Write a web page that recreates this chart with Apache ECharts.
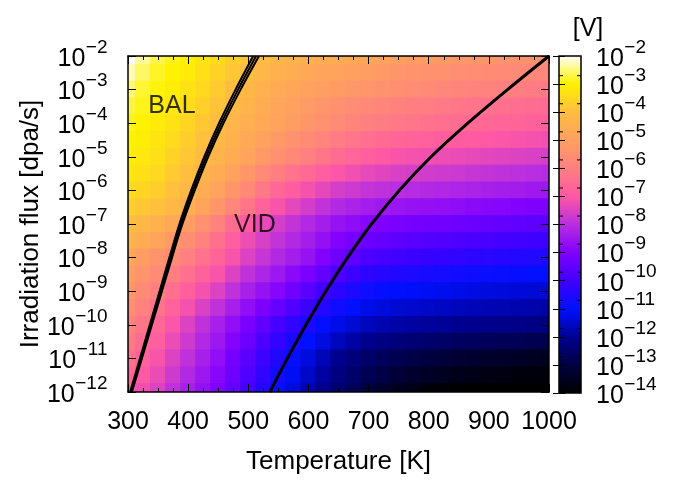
<!DOCTYPE html>
<html>
<head>
<meta charset="utf-8">
<script src="https://cdn.jsdelivr.net/npm/echarts@6/dist/echarts.min.js"></script>
<style>
  html, body { margin: 0; padding: 0; background: #ffffff; }
  #chart { width: 679px; height: 480px; }
</style>
</head>
<body>
<div id="chart"></div>
<script>
// Temperature grid [K] and irradiation flux exponents (log10 dpa/s)
const temperatures = [300, 325, 350, 375, 400, 425, 450, 475, 500, 525, 550, 575, 600, 625, 650,
                      675, 700, 725, 750, 775, 800, 825, 850, 875, 900, 925, 950, 975, 1000];
const fluxExponents = [-2, -2.5, -3, -3.5, -4, -4.5, -5, -5.5, -6, -6.5, -7, -7.5, -8, -8.5, -9,
                       -9.5, -10, -10.5, -11, -11.5, -12];

// log10 of V for every (flux row, temperature column)
const logV = [
  [-2.0,-2.4,-2.7,-2.9,-3.05,-3.25,-3.45,-3.7,-3.9,-4.1,-4.25,-4.38,-4.5,-4.55,-4.6,-4.7,-4.8,-4.9,-5.0,-5.08,-5.15,-5.2,-5.25,-5.3,-5.35,-5.4,-5.45,-5.48,-5.5],
  [-2.3,-2.6,-2.85,-3.0,-3.15,-3.35,-3.6,-3.85,-4.05,-4.25,-4.45,-4.6,-4.75,-4.83,-4.9,-5.0,-5.1,-5.2,-5.3,-5.37,-5.43,-5.5,-5.55,-5.6,-5.65,-5.7,-5.73,-5.77,-5.8],
  [-2.55,-2.8,-2.95,-3.1,-3.3,-3.5,-3.75,-4.0,-4.2,-4.45,-4.65,-4.8,-4.95,-5.05,-5.15,-5.25,-5.35,-5.45,-5.55,-5.62,-5.7,-5.77,-5.85,-5.9,-5.95,-6.0,-6.05,-6.1,-6.15],
  [-2.75,-2.9,-3.05,-3.2,-3.4,-3.65,-3.9,-4.15,-4.35,-4.6,-4.8,-4.98,-5.15,-5.33,-5.5,-5.63,-5.75,-5.85,-5.95,-6.02,-6.08,-6.16,-6.25,-6.3,-6.35,-6.4,-6.45,-6.5,-6.55],
  [-2.9,-3.0,-3.15,-3.3,-3.55,-3.8,-4.05,-4.3,-4.5,-4.7,-4.9,-5.1,-5.3,-5.5,-5.7,-5.85,-6.0,-6.1,-6.2,-6.28,-6.35,-6.42,-6.5,-6.55,-6.6,-6.65,-6.7,-6.75,-6.8],
  [-3.0,-3.1,-3.25,-3.45,-3.7,-3.95,-4.2,-4.45,-4.7,-4.95,-5.2,-5.43,-5.65,-5.88,-6.1,-6.27,-6.43,-6.54,-6.65,-6.72,-6.78,-6.84,-6.9,-6.95,-7.0,-7.05,-7.1,-7.15,-7.2],
  [-3.1,-3.2,-3.35,-3.6,-3.85,-4.1,-4.35,-4.6,-4.9,-5.2,-5.5,-5.75,-6.0,-6.25,-6.5,-6.68,-6.85,-6.98,-7.1,-7.15,-7.2,-7.25,-7.3,-7.35,-7.4,-7.45,-7.5,-7.55,-7.6],
  [-3.25,-3.35,-3.5,-3.75,-4.0,-4.3,-4.6,-4.95,-5.3,-5.68,-6.05,-6.32,-6.58,-6.82,-7.05,-7.2,-7.35,-7.45,-7.55,-7.6,-7.65,-7.7,-7.75,-7.8,-7.85,-7.9,-7.95,-8.0,-8.05],
  [-3.45,-3.55,-3.7,-3.95,-4.2,-4.55,-4.9,-5.3,-5.75,-6.2,-6.6,-6.88,-7.15,-7.38,-7.6,-7.72,-7.85,-7.92,-8.0,-8.05,-8.1,-8.15,-8.2,-8.25,-8.3,-8.35,-8.4,-8.45,-8.5],
  [-3.7,-3.8,-3.95,-4.2,-4.5,-4.9,-5.3,-5.8,-6.3,-6.72,-7.1,-7.37,-7.63,-7.87,-8.1,-8.24,-8.38,-8.46,-8.55,-8.6,-8.65,-8.7,-8.75,-8.8,-8.85,-8.9,-8.95,-9.0,-9.05],
  [-4.0,-4.2,-4.45,-4.75,-5.1,-5.5,-5.95,-6.45,-6.95,-7.3,-7.6,-7.85,-8.1,-8.35,-8.6,-8.75,-8.9,-9.0,-9.1,-9.15,-9.2,-9.25,-9.3,-9.35,-9.4,-9.45,-9.5,-9.55,-9.6],
  [-4.3,-4.55,-4.85,-5.2,-5.55,-5.95,-6.4,-6.85,-7.25,-7.55,-7.85,-8.1,-8.35,-8.65,-8.95,-9.15,-9.35,-9.45,-9.55,-9.62,-9.68,-9.73,-9.78,-9.83,-9.88,-9.93,-9.98,-10.02,-10.05],
  [-4.8,-5.1,-5.4,-5.7,-6.0,-6.35,-6.7,-7.1,-7.5,-7.8,-8.1,-8.35,-8.6,-8.95,-9.3,-9.55,-9.8,-9.9,-10.0,-10.08,-10.15,-10.2,-10.25,-10.3,-10.35,-10.4,-10.45,-10.48,-10.5],
  [-5.05,-5.38,-5.7,-6.05,-6.4,-6.75,-7.1,-7.5,-7.9,-8.2,-8.5,-8.8,-9.1,-9.45,-9.8,-10.05,-10.3,-10.4,-10.5,-10.57,-10.63,-10.68,-10.73,-10.78,-10.83,-10.86,-10.9,-10.93,-10.95],
  [-5.3,-5.65,-6.0,-6.4,-6.8,-7.15,-7.5,-7.9,-8.3,-8.6,-8.9,-9.25,-9.6,-9.95,-10.3,-10.55,-10.8,-10.9,-11.0,-11.05,-11.1,-11.15,-11.2,-11.25,-11.3,-11.32,-11.35,-11.38,-11.4],
  [-5.6,-5.95,-6.3,-6.73,-7.15,-7.53,-7.9,-8.3,-8.7,-9.05,-9.4,-9.75,-10.1,-10.43,-10.75,-10.98,-11.2,-11.3,-11.4,-11.45,-11.5,-11.55,-11.6,-11.64,-11.68,-11.7,-11.73,-11.77,-11.8],
  [-5.9,-6.25,-6.6,-7.05,-7.5,-7.9,-8.3,-8.7,-9.1,-9.5,-9.9,-10.25,-10.6,-10.9,-11.2,-11.4,-11.6,-11.7,-11.8,-11.85,-11.9,-11.95,-12.0,-12.02,-12.05,-12.08,-12.1,-12.15,-12.2],
  [-6.15,-6.5,-6.85,-7.28,-7.7,-8.1,-8.5,-8.93,-9.35,-9.78,-10.2,-10.58,-10.95,-11.28,-11.6,-11.83,-12.05,-12.18,-12.3,-12.38,-12.45,-12.53,-12.6,-12.64,-12.68,-12.72,-12.75,-12.8,-12.85],
  [-6.4,-6.75,-7.1,-7.5,-7.9,-8.3,-8.7,-9.15,-9.6,-10.05,-10.5,-10.9,-11.3,-11.65,-12.0,-12.25,-12.5,-12.65,-12.8,-12.9,-13.0,-13.1,-13.2,-13.25,-13.3,-13.35,-13.4,-13.45,-13.5],
  [-6.65,-6.98,-7.3,-7.7,-8.1,-8.48,-8.85,-9.3,-9.75,-10.23,-10.7,-11.1,-11.5,-11.85,-12.2,-12.48,-12.75,-12.95,-13.15,-13.28,-13.4,-13.5,-13.6,-13.65,-13.7,-13.75,-13.8,-13.85,-13.9],
  [-6.9,-7.2,-7.5,-7.9,-8.3,-8.65,-9.0,-9.45,-9.9,-10.4,-10.9,-11.3,-11.7,-12.05,-12.4,-12.7,-13.0,-13.25,-13.5,-13.65,-13.8,-13.9,-14.0,-14.05,-14.1,-14.15,-14.2,-14.25,-14.3]
];

// BAL / VID boundary: three nearly coincident curves [T, log10 flux]
const balBoundaryA = [[303.5,-12],[319.9,-11],[336.2,-10],[352.5,-9],[368.8,-8],[385.5,-7],[405,-6],[426.7,-5],[451.3,-4],[478.8,-3],[508.2,-2]];
const balBoundaryB = [[305,-12],[321.5,-11],[338,-10],[354.5,-9],[371,-8],[388,-7],[408,-6],[430,-5],[455,-4],[483,-3],[513,-2]];
const balBoundaryC = [[306.5,-12],[323.1,-11],[339.8,-10],[356.5,-9],[373.2,-8],[390.5,-7],[411,-6],[433.3,-5],[458.7,-4],[487.2,-3],[517.8,-2]];
// Second boundary curve
const vidBoundary = [[536,-12],[565,-11],[596,-10],[629,-9],[665,-8],[705,-7],[751,-6],[804,-5],[865,-4],[931,-3],[1000,-2]];

// Region labels
const regionLabels = [{ name: 'BAL', value: [373, -3.48] }, { name: 'VID', value: [511, -7.04] }];

// Decade labels of the flux axis and of the colour bar
const fluxDecades = [-12, -11, -10, -9, -8, -7, -6, -5, -4, -3, -2];
const cbDecades = [-14, -13, -12, -11, -10, -9, -8, -7, -6, -5, -4, -3, -2];

// Colour bar range (log10 V) and its minor tick positions
const cbMin = -14, cbMax = -2;
const cbMinorTicks = [-13.7,-12.7,-11.7,-10.7,-9.7,-8.7,-7.7,-6.7,-5.7,-4.7,-3.7,-2.7];

const palette = ['#000000','#000040','#000090','#0010ff','#4000ff','#8000ff','#b82ee0',
                 '#ff58a4','#ff8080','#ffa060','#ffbe40','#fff200','#ffffff'];

const FONT = 'Liberation Sans';
const BASE_SIZE = 25, EXP_SIZE = 19;

// width of an exponent string, for right-aligned "10^n" labels
const measureCtx = document.createElement('canvas').getContext('2d');
function textWidth(str, size) {
  measureCtx.font = size + 'px "' + FONT + '"';
  return measureCtx.measureText(str).width;
}
const expText = v => '\u2212' + Math.abs(Math.round(v));

// "10" plus raised exponent; anchorX is the right edge (align 'right') or the left edge (align 'left')
function powerLabel(anchorX, y, v, align) {
  const e = expText(v);
  const ew = textWidth(e, EXP_SIZE);
  const bw = textWidth('10', BASE_SIZE);
  const baseRight = align === 'right' ? anchorX - ew : anchorX + bw;
  return {
    type: 'group',
    children: [
      { type: 'text', x: baseRight, y: y + 3,
        style: { text: '10', fill: '#000', fontSize: BASE_SIZE, fontFamily: FONT, align: 'right', verticalAlign: 'middle' } },
      { type: 'text', x: baseRight + 0.5, y: y - 8.5,
        style: { text: e, fill: '#000', fontSize: EXP_SIZE, fontFamily: FONT, align: 'left', verticalAlign: 'middle' } }
    ]
  };
}

const heatData = [];
fluxExponents.forEach((l, i) => temperatures.forEach((t, j) => heatData.push([t, l, logV[i][j]])));
const halfT = (temperatures[1] - temperatures[0]) / 2;
const halfL = Math.abs(fluxExponents[1] - fluxExponents[0]) / 2;

const chart = echarts.init(document.getElementById('chart'), null, { renderer: 'canvas' });

const axisBase = {
  type: 'value',
  axisLine: { show: true, onZero: false, lineStyle: { color: '#000', width: 1.5 } },
  splitLine: { show: false },
  z: 10
};

const lineSeries = (data, width) => ({
  type: 'line', xAxisIndex: 0, yAxisIndex: 0, data: data,
  showSymbol: false, smooth: 0.3, clip: true, silent: true, z: 5,
  lineStyle: { color: '#000', width: width }
});

chart.setOption({
  animation: false,
  backgroundColor: '#ffffff',
  textStyle: { fontFamily: FONT },
  title: {
    text: '[V]', left: 588, top: 17, textAlign: 'center', padding: 0,
    textStyle: { fontSize: 25, fontWeight: 'normal', color: '#000', fontFamily: FONT }
  },
  grid: [
    { left: 128, top: 56, width: 421, height: 337, containLabel: false },
    { left: 559, top: 56, width: 22, height: 337, containLabel: false }
  ],
  visualMap: {
    type: 'continuous', show: false, seriesIndex: 0, dimension: 2,
    min: cbMin, max: cbMax,
    inRange: { color: palette },
    outOfRange: { color: '#000000' }
  },
  xAxis: [
    Object.assign({}, axisBase, {
      gridIndex: 0, position: 'bottom', min: 300, max: 1000, interval: 100,
      axisTick: { show: true, inside: true, length: 8, lineStyle: { color: '#000', width: 1 } },
      minorTick: { show: true, splitNumber: 4, length: 4, lineStyle: { color: '#000', width: 1 } },
      axisLabel: { show: true, margin: 18, fontSize: 25, color: '#000', fontFamily: FONT,
                   showMinLabel: true, showMaxLabel: true, formatter: v => String(v) },
      name: 'Temperature [K]', nameLocation: 'middle', nameGap: 57,
      nameTextStyle: { fontSize: 26, color: '#000', fontFamily: FONT }
    }),
    Object.assign({}, axisBase, {
      gridIndex: 0, position: 'top', min: 300, max: 1000, interval: 100,
      axisTick: { show: true, inside: true, length: 8, lineStyle: { color: '#000', width: 1 } },
      minorTick: { show: true, splitNumber: 4, length: 4, lineStyle: { color: '#000', width: 1 } },
      axisLabel: { show: false }
    }),
    Object.assign({}, axisBase, {
      gridIndex: 1, min: 0, max: 1, show: false
    })
  ],
  yAxis: [
    Object.assign({}, axisBase, {
      gridIndex: 0, position: 'left', min: -12, max: -2, interval: 1,
      axisTick: { show: true, inside: true, length: 8, lineStyle: { color: '#000', width: 1 } },
      axisLabel: { show: false },
      name: 'Irradiation flux [dpa/s]', nameLocation: 'middle', nameGap: 84, nameRotate: 90,
      nameTextStyle: { fontSize: 26, color: '#000', fontFamily: FONT }
    }),
    Object.assign({}, axisBase, {
      gridIndex: 0, position: 'right', min: -12, max: -2, interval: 1,
      axisTick: { show: true, inside: true, length: 8, lineStyle: { color: '#000', width: 1 } },
      axisLabel: { show: false }
    }),
    Object.assign({}, axisBase, {
      gridIndex: 1, position: 'right', min: cbMin, max: cbMax, interval: 1,
      axisLine: { show: false },
      axisTick: { show: true, inside: true, length: 6, lineStyle: { color: '#000', width: 1 } },
      axisLabel: { show: false }
    }),
    Object.assign({}, axisBase, {
      gridIndex: 1, position: 'left', min: cbMin, max: cbMax, interval: 1,
      axisLine: { show: false },
      axisTick: { show: true, inside: true, length: 6, lineStyle: { color: '#000', width: 1 } },
      axisLabel: { show: false }
    })
  ],
  series: [
    {
      // V field as shaded cells
      type: 'custom', xAxisIndex: 0, yAxisIndex: 0, data: heatData,
      encode: { x: 0, y: 1 }, clip: true, silent: true, z: 1,
      renderItem: (params, api) => {
        const t = api.value(0), l = api.value(1);
        const p0 = api.coord([t - halfT, l + halfL]);
        const p1 = api.coord([t + halfT, l - halfL]);
        return {
          type: 'rect',
          shape: { x: p0[0] - 0.5, y: p0[1] - 0.5, width: p1[0] - p0[0] + 1, height: p1[1] - p0[1] + 1 },
          style: { fill: api.visual('color') }
        };
      }
    },
    lineSeries(balBoundaryA, 2),
    lineSeries(balBoundaryB, 2),
    lineSeries(balBoundaryC, 2),
    lineSeries(vidBoundary, 3),
    {
      type: 'scatter', xAxisIndex: 0, yAxisIndex: 0, data: regionLabels,
      symbolSize: 0, silent: true, z: 6,
      label: { show: true, position: 'inside', formatter: '{b}', fontSize: 25, color: '#000', fontFamily: FONT }
    },
    {
      // colour bar
      type: 'custom', xAxisIndex: 2, yAxisIndex: 2, data: [[0, cbMin, cbMax]], silent: true, z: 3,
      renderItem: (params, api) => {
        const p0 = api.coord([0, api.value(2)]);
        const p1 = api.coord([1, api.value(1)]);
        return {
          type: 'rect',
          shape: { x: p0[0], y: p0[1], width: p1[0] - p0[0], height: p1[1] - p0[1] },
          style: {
            fill: new echarts.graphic.LinearGradient(0, 1, 0, 0,
              palette.map((c, i) => ({ offset: i / (palette.length - 1), color: c }))),
            stroke: '#000', lineWidth: 1.5
          }
        };
      }
    },
    {
      // colour bar minor ticks on both sides
      type: 'custom', xAxisIndex: 2, yAxisIndex: 2, data: cbMinorTicks.map(v => [0, v]),
      silent: true, z: 4,
      renderItem: (params, api) => {
        const a = api.coord([0, api.value(1)]);
        const b = api.coord([1, api.value(1)]);
        return {
          type: 'group',
          children: [
            { type: 'line', shape: { x1: a[0], y1: a[1], x2: a[0] + 4, y2: a[1] }, style: { stroke: '#000', lineWidth: 1 } },
            { type: 'line', shape: { x1: b[0] - 4, y1: b[1], x2: b[0], y2: b[1] }, style: { stroke: '#000', lineWidth: 1 } }
          ]
        };
      }
    },
    {
      // flux axis decade labels
      type: 'custom', xAxisIndex: 0, yAxisIndex: 0, data: fluxDecades.map(v => [300, v]),
      silent: true, clip: false, z: 10,
      renderItem: (params, api) => {
        const p = api.coord([api.value(0), api.value(1)]);
        return powerLabel(p[0] - 21, p[1], api.value(1), 'right');
      }
    },
    {
      // colour bar decade labels
      type: 'custom', xAxisIndex: 2, yAxisIndex: 2, data: cbDecades.map(v => [1, v]),
      silent: true, clip: false, z: 10,
      renderItem: (params, api) => {
        const p = api.coord([api.value(0), api.value(1)]);
        return powerLabel(p[0] + 15, p[1], api.value(1), 'left');
      }
    }
  ]
});
</script>
</body>
</html>
